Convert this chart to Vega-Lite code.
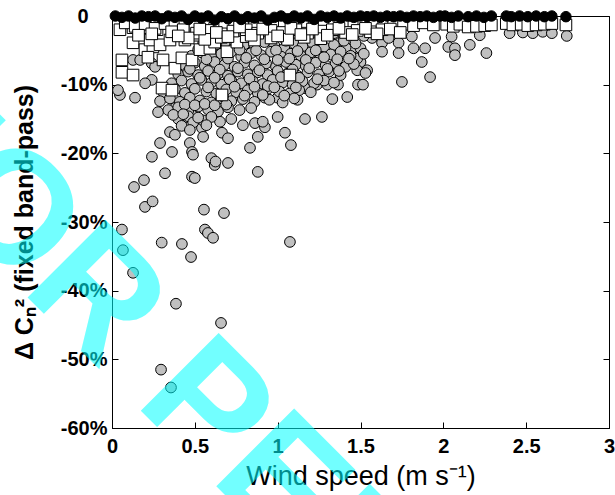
{
  "$schema": "https://vega.github.io/schema/vega-lite/v6.json",
  "width": 497,
  "height": 412,
  "autosize": {"type": "none"},
  "padding": {"left": 112, "top": 16, "right": 6, "bottom": 67},
  "background": "white",
  "config": {
    "view": {"stroke": "black", "strokeWidth": 1},
    "font": "Liberation Sans",
    "axis": {
      "domainColor": "black", "domainWidth": 1, "tickColor": "black", "tickWidth": 1, "tickSize": -6,
      "grid": false, "labelFont": "Liberation Sans", "labelFontWeight": "bold", "labelFontSize": 20,
      "labelColor": "black", "titleColor": "black", "titleFont": "Liberation Sans", "labelFlush": false, "labelOverlap": false
    }
  },
  "datasets": {
    "gray": [
      {"x":0.066,"y":-34.1},{"x":0.127,"y":-37.4},{"x":0.386,"y":-41.9},{"x":0.658,"y":-44.7},{"x":0.296,"y":-51.5},{"x":0.356,"y":-54.1},{"x":0.30,"y":-33.0},{"x":0.422,"y":-33.2},{"x":0.477,"y":-35.1},{"x":0.555,"y":-28.2},{"x":0.676,"y":-28.7},{"x":0.561,"y":-31.1},{"x":0.579,"y":-31.6},{"x":0.61,"y":-32.3},{"x":1.074,"y":-32.9},{"x":0.06,"y":-31.1},{"x":0.199,"y":-27.8},{"x":0.245,"y":-27.0},
      {"x":0.048,"y":-11.5},{"x":0.139,"y":-11.9},{"x":0.133,"y":-24.9},{"x":0.193,"y":-23.9},{"x":0.241,"y":-20.5},{"x":0.29,"y":-18.5},{"x":0.32,"y":-22.9},{"x":0.362,"y":-19.8},{"x":0.35,"y":-16.9},{"x":0.38,"y":-17.3},{"x":0.278,"y":-14.0},{"x":0.38,"y":-13.4},{"x":0.44,"y":-14.8},{"x":0.50,"y":-14.4},{"x":0.543,"y":-16.3},{"x":0.47,"y":-18.5},{"x":0.483,"y":-19.8},{"x":0.489,"y":-20.2},{"x":0.483,"y":-23.4},{"x":0.50,"y":-23.6},{"x":0.60,"y":-20.7},{"x":0.62,"y":-21.7},{"x":0.625,"y":-21.2},{"x":0.70,"y":-21.4},{"x":0.652,"y":-15.4},{"x":0.664,"y":-17.0},{"x":0.70,"y":-17.8},{"x":0.79,"y":-15.9},{"x":0.863,"y":-15.6},{"x":0.923,"y":-16.2},{"x":0.91,"y":-15.4},{"x":1.0,"y":-14.7},{"x":0.88,"y":-17.6},{"x":0.833,"y":-19.2},{"x":1.044,"y":-17.0},{"x":1.08,"y":-18.8},{"x":1.165,"y":-15.0},{"x":1.267,"y":-14.7},{"x":0.88,"y":-22.7},
      {"x":0.923,"y":-11.9},{"x":1.0,"y":-11.9},{"x":1.12,"y":-12.2},{"x":1.33,"y":-12.1},{"x":1.42,"y":-11.8},{"x":1.165,"y":-10.5},{"x":1.237,"y":-10.0},{"x":1.30,"y":-10.0},{"x":1.364,"y":-10.0},{"x":1.485,"y":-10.0},{"x":1.515,"y":-10.0},{"x":1.75,"y":-9.6},{"x":1.92,"y":-8.9},{"x":1.485,"y":-5.4},{"x":1.50,"y":-6.7},{"x":1.54,"y":-7.9},{"x":1.48,"y":-7.9},{"x":1.376,"y":-3.9},{"x":1.33,"y":-5.0},{"x":1.57,"y":-3.2},{"x":1.63,"y":-3.9},{"x":1.63,"y":-5.2},{"x":1.67,"y":-3.2},{"x":1.73,"y":-3.9},{"x":1.73,"y":-5.4},{"x":1.81,"y":-3.0},{"x":1.82,"y":-4.7},{"x":1.87,"y":-6.7},{"x":1.89,"y":-4.7},{"x":1.95,"y":-3.2},{"x":2.05,"y":-3.0},{"x":2.03,"y":-4.5},{"x":2.07,"y":-4.7},{"x":2.07,"y":-5.7},{"x":2.16,"y":-4.2},{"x":2.22,"y":-2.8},{"x":2.26,"y":-5.4},{"x":2.40,"y":-2.5},{"x":2.48,"y":-2.4},{"x":2.54,"y":-2.5},{"x":2.60,"y":-2.3},{"x":2.655,"y":-2.5},{"x":2.745,"y":-2.9},{"x":1.195,"y":-6.0},{"x":1.25,"y":-5.0},{"x":1.45,"y":-4.7},{"x":1.50,"y":-4.7},{"x":1.48,"y":-6.2},{"x":1.53,"y":-8.3},
      {"x":0.78,"y":-2.5},{"x":0.85,"y":-3.1},{"x":0.90,"y":-2.7},{"x":0.97,"y":-3.3},{"x":1.03,"y":-2.6},{"x":1.10,"y":-3.0},{"x":1.16,"y":-2.4},{"x":1.22,"y":-3.2},{"x":1.27,"y":-2.8},{"x":1.34,"y":-2.5},{"x":1.40,"y":-3.1},{"x":1.46,"y":-2.7},{"x":1.52,"y":-2.9},
      {"x":0.55,"y":-4.0},{"x":0.61,"y":-4.5},{"x":0.68,"y":-3.9},{"x":0.74,"y":-4.6},{"x":0.80,"y":-4.1},{"x":0.86,"y":-4.4},{"x":0.92,"y":-3.8},{"x":0.98,"y":-4.3},{"x":1.04,"y":-4.7},{"x":1.10,"y":-4.0},{"x":1.15,"y":-4.4},{"x":1.21,"y":-3.9},{"x":1.28,"y":-4.5},{"x":1.34,"y":-4.2},{"x":1.41,"y":-4.6},{"x":1.47,"y":-4.0},
      {"x":0.48,"y":-5.8},{"x":0.54,"y":-5.3},{"x":0.60,"y":-5.9},{"x":0.66,"y":-5.5},{"x":0.72,"y":-5.2},{"x":0.78,"y":-5.9},{"x":0.84,"y":-5.4},{"x":0.90,"y":-5.7},{"x":0.96,"y":-5.2},{"x":1.02,"y":-5.9},{"x":1.08,"y":-5.5},{"x":1.14,"y":-5.8},{"x":1.20,"y":-5.3},{"x":1.26,"y":-5.9},{"x":1.32,"y":-5.6},{"x":1.38,"y":-5.2},{"x":1.44,"y":-5.8},{"x":1.52,"y":-5.5},
      {"x":0.44,"y":-7.2},{"x":0.50,"y":-6.8},{"x":0.56,"y":-7.3},{"x":0.62,"y":-6.7},{"x":0.68,"y":-7.1},{"x":0.74,"y":-7.4},{"x":0.80,"y":-6.8},{"x":0.86,"y":-7.2},{"x":0.93,"y":-6.9},{"x":0.99,"y":-7.4},{"x":1.05,"y":-6.7},{"x":1.11,"y":-7.1},{"x":1.17,"y":-7.3},{"x":1.23,"y":-6.8},{"x":1.29,"y":-7.2},{"x":1.35,"y":-6.9},{"x":1.41,"y":-7.4},{"x":1.46,"y":-7.0},
      {"x":0.40,"y":-8.5},{"x":0.46,"y":-8.1},{"x":0.52,"y":-8.6},{"x":0.58,"y":-8.0},{"x":0.64,"y":-8.4},{"x":0.70,"y":-8.7},{"x":0.76,"y":-8.1},{"x":0.82,"y":-8.5},{"x":0.88,"y":-8.2},{"x":0.94,"y":-8.6},{"x":1.00,"y":-8.0},{"x":1.06,"y":-8.4},{"x":1.12,"y":-8.7},{"x":1.18,"y":-8.2},{"x":1.25,"y":-8.5},{"x":1.31,"y":-8.1},{"x":1.38,"y":-8.6},
      {"x":0.36,"y":-9.8},{"x":0.42,"y":-9.4},{"x":0.48,"y":-9.9},{"x":0.54,"y":-9.3},{"x":0.60,"y":-9.7},{"x":0.66,"y":-10.0},{"x":0.72,"y":-9.4},{"x":0.78,"y":-9.8},{"x":0.85,"y":-9.5},{"x":0.91,"y":-9.9},{"x":0.97,"y":-9.3},{"x":1.03,"y":-9.7},{"x":1.09,"y":-10.0},{"x":1.15,"y":-9.5},{"x":1.22,"y":-9.8},{"x":1.28,"y":-9.4},{"x":1.34,"y":-9.7},
      {"x":0.31,"y":-11.1},{"x":0.38,"y":-10.7},{"x":0.44,"y":-11.2},{"x":0.50,"y":-10.6},{"x":0.57,"y":-11.0},{"x":0.63,"y":-11.3},{"x":0.69,"y":-10.7},{"x":0.75,"y":-11.1},{"x":0.82,"y":-10.8},{"x":0.88,"y":-11.2},{"x":0.94,"y":-10.6},{"x":1.01,"y":-11.0},{"x":1.07,"y":-11.3},{"x":1.13,"y":-10.8},{"x":1.20,"y":-11.1},
      {"x":0.29,"y":-12.4},{"x":0.35,"y":-12.0},{"x":0.41,"y":-12.5},{"x":0.47,"y":-11.9},{"x":0.53,"y":-12.3},{"x":0.60,"y":-12.6},{"x":0.66,"y":-12.0},{"x":0.72,"y":-12.4},{"x":0.79,"y":-12.1},{"x":0.86,"y":-12.5},{"x":0.95,"y":-12.2},{"x":1.03,"y":-12.6},{"x":1.10,"y":-12.0},
      {"x":0.34,"y":-13.7},{"x":0.40,"y":-13.3},{"x":0.46,"y":-13.8},{"x":0.52,"y":-13.2},{"x":0.58,"y":-13.6},{"x":0.64,"y":-13.9},{"x":0.70,"y":-13.3},{"x":0.77,"y":-13.7},{"x":0.84,"y":-13.4},
      {"x":0.40,"y":-15.0},{"x":0.46,"y":-14.6},{"x":0.55,"y":-15.2},{"x":0.60,"y":-14.7},{"x":0.72,"y":-15.0},
      {"x":0.127,"y":-6.4},{"x":0.17,"y":-6.4},{"x":0.24,"y":-6.9},{"x":0.26,"y":-7.4},{"x":0.24,"y":-9.3},{"x":0.2,"y":-9.8},{"x":0.036,"y":-10.8},
      {"x":0.52,"y":-4.9},{"x":0.57,"y":-6.3},{"x":0.63,"y":-4.1},{"x":0.65,"y":-7.8},{"x":0.70,"y":-6.2},{"x":0.71,"y":-9.2},{"x":0.77,"y":-4.9},{"x":0.76,"y":-7.6},{"x":0.81,"y":-6.1},{"x":0.83,"y":-9.1},{"x":0.87,"y":-5.0},{"x":0.89,"y":-7.9},{"x":0.92,"y":-6.3},{"x":0.94,"y":-10.2},{"x":0.99,"y":-5.0},{"x":1.00,"y":-6.4},{"x":1.02,"y":-8.9},{"x":1.05,"y":-3.6},{"x":1.07,"y":-6.2},{"x":1.09,"y":-7.8},{"x":1.12,"y":-5.1},{"x":1.13,"y":-9.0},{"x":1.17,"y":-6.4},{"x":1.19,"y":-7.6},{"x":1.23,"y":-5.0},{"x":1.24,"y":-9.2},{"x":1.28,"y":-6.0},{"x":1.30,"y":-7.7},{"x":1.36,"y":-6.3},{"x":1.37,"y":-8.0},{"x":1.40,"y":-3.6},{"x":1.43,"y":-6.2},{"x":0.47,"y":-7.7},{"x":0.53,"y":-9.0},{"x":0.58,"y":-10.4},{"x":0.62,"y":-9.0},{"x":0.67,"y":-11.7},{"x":0.74,"y":-10.3},{"x":0.80,"y":-11.6},{"x":0.86,"y":-10.3},{"x":0.91,"y":-11.5},{"x":0.98,"y":-10.4},{"x":1.04,"y":-11.6},{"x":1.11,"y":-10.4},{"x":0.44,"y":-12.9},{"x":0.50,"y":-13.0},{"x":0.56,"y":-12.8},{"x":0.62,"y":-13.0},{"x":0.69,"y":-12.9},{"x":0.37,"y":-14.4},{"x":0.43,"y":-14.3},{"x":0.49,"y":-15.5},{"x":0.52,"y":-14.8},{"x":0.42,"y":-16.0},{"x":0.47,"y":-16.6},{"x":0.57,"y":-15.9},{"x":0.55,"y":-17.6}
    ],
    "sq": [
      {"x":0.048,"y":-2.0},{"x":0.127,"y":-1.7},{"x":0.127,"y":-3.9},{"x":0.199,"y":-4.9},{"x":0.247,"y":-4.5},{"x":0.217,"y":-6.0},{"x":0.308,"y":-6.4},{"x":0.38,"y":-7.6},{"x":0.422,"y":-6.1},{"x":0.483,"y":-6.4},{"x":0.06,"y":-6.4},{"x":0.06,"y":-8.2},{"x":0.127,"y":-8.6},{"x":0.302,"y":-10.5},{"x":0.362,"y":-10.8},{"x":0.664,"y":-11.5},{"x":1.074,"y":-8.6},{"x":0.531,"y":-4.9},{"x":0.591,"y":-4.7},{"x":0.694,"y":-5.2},{"x":0.272,"y":-2.0},{"x":0.181,"y":-1.7},{"x":0.23,"y":-3.5},{"x":0.29,"y":-4.2},{"x":0.35,"y":-3.5},{"x":0.44,"y":-3.5},{"x":0.50,"y":-2.8},{"x":0.59,"y":-2.8},{"x":0.62,"y":-3.8},{"x":0.754,"y":-3.8},{"x":0.81,"y":-3.0},
      {"x":0.08,"y":-1.0},{"x":0.14,"y":-1.5},{"x":0.20,"y":-1.2},{"x":0.26,"y":-1.8},{"x":0.32,"y":-1.1},{"x":0.38,"y":-1.4},{"x":0.44,"y":-1.0},{"x":0.50,"y":-1.6},{"x":0.56,"y":-1.2},{"x":0.62,"y":-1.8},{"x":0.68,"y":-1.1},{"x":0.74,"y":-1.5},{"x":0.80,"y":-1.0},{"x":0.86,"y":-1.7},{"x":0.92,"y":-1.2},{"x":0.98,"y":-1.5},{"x":1.04,"y":-1.0},{"x":1.10,"y":-1.6},{"x":1.16,"y":-1.2},{"x":1.22,"y":-1.4},{"x":1.28,"y":-1.0},{"x":1.34,"y":-1.5},{"x":1.40,"y":-1.2},{"x":1.46,"y":-1.6},{"x":1.52,"y":-1.1},{"x":1.58,"y":-1.4},{"x":1.64,"y":-1.0},{"x":1.70,"y":-1.5},{"x":1.76,"y":-1.2},{"x":1.82,"y":-1.4},{"x":1.88,"y":-1.0},{"x":1.94,"y":-1.3},
      {"x":0.36,"y":-2.3},{"x":0.43,"y":-2.0},{"x":0.51,"y":-2.5},{"x":0.58,"y":-2.1},{"x":0.66,"y":-2.6},{"x":0.73,"y":-2.2},{"x":0.81,"y":-2.0},{"x":0.88,"y":-2.5},{"x":0.96,"y":-2.1},{"x":1.03,"y":-2.4},{"x":1.11,"y":-2.0},{"x":1.18,"y":-2.5},{"x":1.26,"y":-2.2},{"x":1.33,"y":-2.0},{"x":1.41,"y":-2.4},{"x":1.48,"y":-2.1},{"x":1.56,"y":-2.3},{"x":1.63,"y":-2.0},
      {"x":0.46,"y":-3.2},{"x":0.56,"y":-3.4},{"x":0.66,"y":-3.1},{"x":0.86,"y":-3.5},{"x":0.96,"y":-3.2},{"x":1.06,"y":-3.4},{"x":1.16,"y":-3.1},{"x":1.26,"y":-3.3},
      {"x":0.40,"y":-2.9},{"x":0.53,"y":-1.9},{"x":0.63,"y":-2.4},{"x":0.70,"y":-3.0},{"x":0.77,"y":-1.6},{"x":0.84,"y":-2.8},{"x":0.91,"y":-1.9},{"x":1.00,"y":-2.9},{"x":1.08,"y":-1.8},{"x":1.14,"y":-2.7},{"x":1.21,"y":-1.9},{"x":1.30,"y":-2.8},{"x":1.37,"y":-1.8},{"x":1.45,"y":-2.7},{"x":1.53,"y":-1.8},{"x":1.60,"y":-2.6},{"x":1.68,"y":-1.9},{"x":1.74,"y":-2.4},{"x":0.24,"y":-2.6},{"x":0.16,"y":-2.8},
      {"x":2.02,"y":-1.2},{"x":2.06,"y":-1.5},{"x":2.10,"y":-1.2},{"x":2.15,"y":-1.6},{"x":2.20,"y":-1.5},{"x":2.25,"y":-1.4},{"x":2.29,"y":-1.3},{"x":2.38,"y":-1.1},{"x":2.42,"y":-1.3},{"x":2.47,"y":-1.2},{"x":2.51,"y":-1.4},{"x":2.56,"y":-1.3},{"x":2.61,"y":-1.2},{"x":2.655,"y":-1.1},{"x":2.74,"y":-1.3}
    ],
    "blk": [
      {"x":0.02,"y":0},{"x":0.06,"y":-0.2},{"x":0.10,"y":0},{"x":0.14,"y":-0.3},{"x":0.18,"y":0},{"x":0.22,"y":-0.1},{"x":0.26,"y":0},{"x":0.30,"y":-0.4},{"x":0.34,"y":0},{"x":0.38,"y":-0.2},{"x":0.42,"y":0},{"x":0.46,"y":-0.5},{"x":0.50,"y":0},{"x":0.54,"y":-0.3},{"x":0.58,"y":0},{"x":0.62,"y":-0.6},{"x":0.66,"y":-0.1},{"x":0.70,"y":-0.4},{"x":0.74,"y":0},{"x":0.78,"y":-0.5},{"x":0.82,"y":-0.1},{"x":0.86,"y":-0.3},{"x":0.90,"y":0},{"x":0.94,"y":-0.6},{"x":0.98,"y":-0.2},{"x":1.02,"y":0},{"x":1.06,"y":-0.4},{"x":1.10,"y":0},{"x":1.14,"y":-0.3},{"x":1.18,"y":0},{"x":1.22,"y":-0.5},{"x":1.26,"y":0},{"x":1.30,"y":-0.2},{"x":1.34,"y":0},{"x":1.38,"y":-0.3},{"x":1.42,"y":0},{"x":1.46,"y":-0.2},{"x":1.50,"y":0},{"x":1.54,"y":-0.1},{"x":1.58,"y":0},{"x":1.62,"y":-0.2},{"x":1.66,"y":0},{"x":1.70,"y":-0.1},{"x":1.74,"y":0},{"x":1.78,"y":-0.2},{"x":1.82,"y":0},{"x":1.86,"y":-0.1},{"x":1.90,"y":0},{"x":1.94,"y":-0.2},{"x":1.98,"y":0},
      {"x":2.01,"y":0},{"x":2.05,"y":-0.2},{"x":2.09,"y":0},{"x":2.15,"y":-0.1},{"x":2.20,"y":0},{"x":2.245,"y":-0.2},{"x":2.29,"y":0},{"x":2.38,"y":0},{"x":2.41,"y":-0.1},{"x":2.46,"y":0},{"x":2.51,"y":-0.1},{"x":2.56,"y":0},{"x":2.61,"y":-0.1},{"x":2.655,"y":0},{"x":2.74,"y":-0.1}
    ],
    "wm": [
      {"x": -1.503, "y": -17.03, "t": "FOR PEER REVIEW"}
    ]
  },
  "resolve": {"axis": {"x": "independent", "y": "independent"}},
  "layer": [
    {
      "data": {"name": "gray"},
      "mark": {"type": "point", "shape": "circle", "filled": true, "fill": "#c0c0c0", "stroke": "black", "strokeWidth": 1, "size": 115, "opacity": 1},
      "encoding": {
        "x": {"field": "x", "type": "quantitative", "scale": {"domain": [0, 3], "nice": false, "zero": false},
          "axis": {"orient": "bottom", "values": [0, 0.5, 1, 1.5, 2, 2.5, 3], "labelExpr": "datum.value + ''", "labelPadding": 14,
            "title": "Wind speed (m s⁻¹)", "titleFontSize": 27, "titleFontWeight": "normal", "titlePadding": 7}},
        "y": {"field": "y", "type": "quantitative", "scale": {"domain": [-60, 0], "nice": false, "zero": false},
          "axis": {"orient": "left", "values": [-60, -50, -40, -30, -20, -10, 0], "labelExpr": "datum.value == 0 ? '0' : datum.value + '%'",
            "labelPadding": {"condition": {"test": "datum.value == 0", "value": 30}, "value": 11},
            "title": "Δ Cₙ² (fixed band-pass)", "titleFontSize": 25, "titleFontWeight": "bold", "titlePadding": 23}}
      }
    },
    {
      "data": {"name": "sq"},
      "mark": {"type": "point", "shape": "square", "filled": true, "fill": "white", "stroke": "black", "strokeWidth": 1, "size": 135, "opacity": 1},
      "encoding": {
        "x": {"field": "x", "type": "quantitative", "scale": {"domain": [0, 3], "nice": false, "zero": false}, "axis": null},
        "y": {"field": "y", "type": "quantitative", "scale": {"domain": [-60, 0], "nice": false, "zero": false}, "axis": null}
      }
    },
    {
      "data": {"name": "blk"},
      "mark": {"type": "point", "shape": "circle", "filled": true, "fill": "black", "stroke": "black", "strokeWidth": 1, "size": 110, "opacity": 1},
      "encoding": {
        "x": {"field": "x", "type": "quantitative", "scale": {"domain": [0, 3], "nice": false, "zero": false},
          "axis": {"orient": "top", "values": [0, 0.5, 1, 1.5, 2, 2.5, 3], "labels": false, "title": null, "domain": false}},
        "y": {"field": "y", "type": "quantitative", "scale": {"domain": [-60, 0], "nice": false, "zero": false},
          "axis": {"orient": "right", "values": [-60, -50, -40, -30, -20, -10, 0], "labels": false, "title": null, "domain": false}}
      }
    },
    {
      "data": {"name": "wm"},
      "mark": {"type": "text", "angle": 45, "align": "left", "baseline": "alphabetic", "fontSize": 160, "fontWeight": "bold", "font": "Liberation Sans", "fill": "#00ffff", "opacity": 0.55},
      "encoding": {
        "x": {"field": "x", "type": "quantitative", "scale": {"domain": [0, 3], "nice": false, "zero": false}, "axis": null},
        "y": {"field": "y", "type": "quantitative", "scale": {"domain": [-60, 0], "nice": false, "zero": false}, "axis": null},
        "text": {"field": "t"}
      }
    }
  ]
}
